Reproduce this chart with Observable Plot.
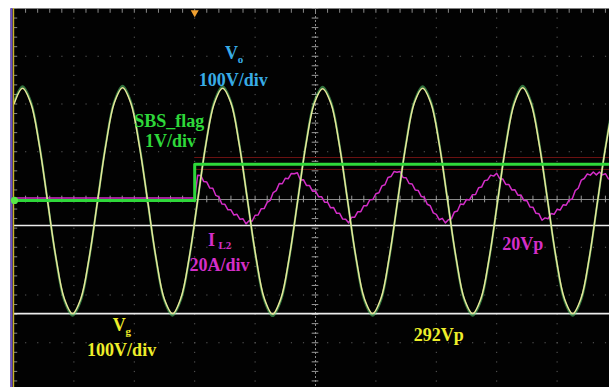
<!DOCTYPE html>
<html>
<head>
<meta charset="utf-8">
<script src="https://cdn.jsdelivr.net/npm/d3@7"></script>
<script src="https://cdn.jsdelivr.net/npm/@observablehq/plot@0.6"></script>
<style>
  html, body { margin: 0; padding: 0; background: #fff; overflow: hidden; width: 609px; height: 387px; }
  #scope svg { display: block; }
</style>
</head>
<body>
<div id="scope"></div>
<script>
// Time base 10 ms/div over 10 divisions; 8 vertical divisions.
const timeDomain = [-50, 50];
const divDomain = [-4, 4];

// Channel settings: units per division and position offset (divisions).
const vgScale = 100, vgOffset = -0.03;     // Vg, 100 V/div
const voScale = 100, voOffset = -0.03;     // Vo, 100 V/div
const flagScale = 1, flagOffset = -0.02;   // SBS_flag, 1 V/div
const il2Scale = 20, il2Offset = 0.03;     // IL2, 20 A/div

// Vg / Vo record: sample start (ms) and interval (ms)
const acStart = -49.88;
const acStep = 1.38;
const vgVolts = [
  204, 236, 204, 118, 0, -118, -204, -236, -204, -118, 0, 118,
  205, 237, 204, 117, 1, -118, -205, -236, -203, -118, 0, 119,
  204, 236, 205, 118, 0, -117, -204, -237, -204, -118, -1, 118,
  204, 235, 204, 118, 0, -118, -204, -236, -204, -117, 0, 118,
  205, 236, 204, 118, 0, -118, -205, -236, -204, -118, 0, 118,
  204, 237, 204, 117, 0, -118, -204, -236, -204, -118, 1, 118,
  204, 236
];
const voVolts = [
  208, 240, 208, 120, 0, -120, -208, -240, -208, -120, 0, 120,
  208, 241, 208, 120, 0, -120, -208, -240, -207, -120, 0, 120,
  208, 240, 208, 120, 0, -120, -208, -241, -208, -120, 0, 120,
  208, 239, 208, 120, 0, -120, -208, -240, -208, -120, 0, 120,
  208, 240, 208, 120, 0, -120, -208, -240, -208, -120, 0, 120,
  208, 241, 208, 120, 0, -120, -208, -240, -208, -120, 0, 120,
  208, 240
];

// SBS_flag: low until the switch instant, then high
const flagTimes = [-50, -20, -20, 50];
const flagVolts = [0, 0, 0.76, 0.76];
const flagEnvelope = [0.65, 0.90];

// IL2: zero before the switch, then sampled every 0.5 ms
const il2Start = -20;
const il2Step = 0.5;
const il2Amps = [
  0, 9.6, 9.5, 6.9, 6.7, 4.2, 4.1, 1.1, 0.5, -2.5,
  -2.6, -4.9, -4.9, -7.1, -6.8, -8.9, -8.7, -10.8, -9.5, -9.7,
  -7.2, -7.1, -4.5, -4.4, -1.8, -1.0, 2.3, 3.1, 6.1, 6.0,
  8.3, 8.1, 10.3, 10.2, 10.6, 7.6, 7.7, 5.3, 5.3, 2.9,
  3.0, 0.6, 0.6, -1.7, -1.7, -4.1, -4.0, -6.4, -6.4, -8.8,
  -8.9, -10.4, -8.0, -8.0, -5.7, -5.7, -3.2, -3.2, -0.7, -0.6,
  1.8, 2.2, 5.1, 5.6, 8.6, 9.0, 11.1, 10.8, 11.1, 8.6,
  8.5, 6.1, 5.9, 3.4, 3.2, 0.7, 0.4, -2.6, -3.2, -6.2,
  -6.8, -9.1, -8.5, -10.4, -9.1, -8.7, -5.8, -5.4, -2.5, -2.7,
  -0.6, -0.8, 1.4, 1.5, 4.3, 4.6, 7.3, 7.6, 9.6, 9.2,
  10.4, 8.1, 8.0, 5.7, 5.7, 3.4, 3.5, 1.2, 1.3, -1.0,
  -1.1, -3.7, -3.8, -6.4, -6.6, -9.3, -8.3, -8.7, -6.5, -6.8,
  -4.7, -5.0, -2.8, -3.0, -0.8, -0.4, 3.1, 4.1, 7.5, 8.2,
  10.1, 9.6, 10.9, 9.7, 10.9, 9.7, 10.2, 8.0, 8.8
];

// Cursor levels
const vgCursor = -236;   // V
const il2Cursor = -11.5; // A

// Annotation text
const channelNames = ["V", "SBS_flag", "I", "V"];
const channelSubs = ["o", "", "L2", "g"];
const channelScales = ["100V/div", "1V/div", "20A/div", "100V/div"];
const readouts = ["20Vp", "292Vp"];

// Build plotting tables in screen divisions
const vgData = vgVolts.map((v, k) => ({t: acStart + k * acStep, y: v / vgScale + vgOffset}));
const voData = voVolts.map((v, k) => ({t: acStart + k * acStep, y: v / voScale + voOffset}));
const flagData = flagTimes.map((t, k) => ({t, y: flagVolts[k] / flagScale + flagOffset}));
const il2Data = [{t: -50, y: il2Offset}].concat(
  il2Amps.map((a, k) => ({t: il2Start + k * il2Step, y: a / il2Scale + il2Offset}))
);

const cVo = "#38ace6", cFlag = "#2ed83a", cIl2 = "#d42ec8", cVg = "#eeee2a";
const font = "Liberation Serif, Times New Roman, serif";

// graticule
const majorX = d3.range(-40, 41, 10).filter(d => d !== 0);
const majorY = d3.range(-3, 4, 1).filter(d => d !== 0);
const minorX = d3.range(-50, 50.01, 2);
const minorY = d3.range(-4, 4.01, 0.2);

const txt = (text, x, y, fill, size = 18, extra = {}) =>
  Plot.text([text], {x: () => x, y: () => y, text: d => d, fill, fontSize: size,
    fontFamily: font, fontWeight: "bold", textAnchor: "middle", ...extra});

const chart = Plot.plot({
  width: 609,
  height: 387,
  marginTop: 8,
  marginLeft: 10,
  marginRight: 0,
  marginBottom: 0,
  style: {background: "#fff", overflow: "hidden"},
  x: {domain: timeDomain, range: [13, 617], axis: null},
  y: {domain: divDomain, range: [390, 8], axis: null},
  marks: [
    Plot.frame({fill: "#020202", stroke: null}),
    // dotted division lines
    Plot.ruleX(majorX, {y1: 4, y2: -4, stroke: "#5e5e5e", strokeWidth: 1, strokeDasharray: "1.2,8.35"}),
    Plot.ruleY(majorY, {x1: -50, x2: 50, stroke: "#5e5e5e", strokeWidth: 1, strokeDasharray: "1.2,10.88"}),
    // centre axes with minor ticks
    Plot.ruleX([0], {y1: 4, y2: -4, stroke: "#8a8a8a", strokeWidth: 1, strokeDasharray: "2,2"}),
    Plot.ruleY([0], {x1: -50, x2: 50, stroke: "#8a8a8a", strokeWidth: 1}),
    Plot.ruleY(minorY, {y: d => d, x1: -0.55, x2: 0.55, stroke: "#9a9a9a", strokeWidth: 1}),
    Plot.ruleX(minorX, {x: d => d, y1: -0.07, y2: 0.07, stroke: "#9a9a9a", strokeWidth: 1}),
    // edge ticks
    Plot.ruleX(minorX, {x: d => d, y1: 4, y2: 3.9, stroke: "#8a8a8a", strokeWidth: 1}),
    Plot.ruleY(minorY, {y: d => d, x1: -50, x2: -49.3, stroke: "#8a8a8a", strokeWidth: 1}),
    // cursors
    Plot.ruleY([vgCursor / vgScale + vgOffset, il2Cursor / il2Scale + il2Offset],
      {x1: -50, x2: 50, stroke: "#ececec", strokeWidth: 1.6}),
    // faint flag envelope
    Plot.ruleY(flagEnvelope.map(v => v / flagScale + flagOffset),
      {x1: -20, x2: 50, stroke: "#6e1212", strokeWidth: 1}),
    // traces
    Plot.line(il2Data, {x: "t", y: "y", stroke: cIl2, strokeWidth: 1.5, clip: true}),
    Plot.line(voData, {x: "t", y: "y", stroke: "#58d070", strokeOpacity: 0.55, strokeWidth: 2.2, curve: "catmull-rom", clip: true}),
    Plot.line(vgData, {x: "t", y: "y", stroke: "#e8e89a", strokeWidth: 1.5, curve: "catmull-rom", clip: true}),
    Plot.line(flagData, {x: "t", y: "y", stroke: cFlag, strokeWidth: 3, clip: true}),
    // left border and markers
    Plot.ruleX([-50], {y1: 4, y2: -4, stroke: "#6a4cc8", strokeWidth: 2, dx: -2}),
    Plot.ruleX([-50], {y1: 4, y2: -4, stroke: "#c8b428", strokeWidth: 1.4}),
    Plot.dot([flagOffset], {x: () => -50, y: d => d, r: 3.6, fill: "#58e848", dx: 1}),
    Plot.dot([4], {x: () => -20, y: d => d, symbol: "triangle", rotate: 180, r: 3, fill: "#f0a030", dy: 4}),
    // channel labels
    txt(channelNames[0], -13.9, 3.06, cVo),
    txt(channelSubs[0], -12.4, 2.93, cVo, 11),
    txt(channelScales[0], -13.6, 2.49, cVo),
    txt(channelNames[1], -24.2, 1.64, cFlag),
    txt(channelScales[1], -24.0, 1.21, cFlag),
    txt(channelNames[2], -17.2, -0.86, cIl2),
    txt(channelSubs[2], -15.0, -0.96, cIl2, 11),
    txt(channelScales[2], -15.9, -1.38, cIl2),
    txt(readouts[0], 34.3, -0.94, cIl2),
    txt(channelNames[3], -32.5, -2.64, cVg),
    txt(channelSubs[3], -31.0, -2.76, cVg, 11),
    txt(channelScales[3], -32.1, -3.16, cVg),
    txt(readouts[1], 20.4, -2.85, cVg)
  ]
});

document.getElementById("scope").appendChild(chart);
</script>
</body>
</html>
